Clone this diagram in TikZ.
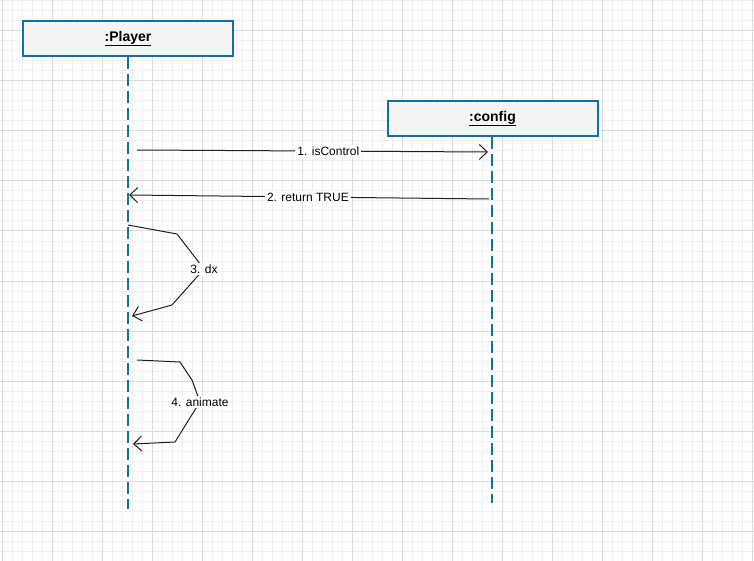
\documentclass[tikz,border=0pt]{standalone}
\usepackage{fontspec}
\setmainfont{Liberation Sans}
\usetikzlibrary{arrows.meta}
\definecolor{lifeblue}{HTML}{10739E}
\definecolor{boxfill}{HTML}{F5F5F5}
\definecolor{gridminor}{HTML}{EFEFEF}
\definecolor{gridmajor}{HTML}{DCDCDC}
\definecolor{msgline}{HTML}{202020}
\tikzset{
  objbox/.style={draw=lifeblue, line width=2pt, fill=boxfill, minimum width=210pt, minimum height=35pt, inner sep=0pt, font=\fontsize{14}{16}\selectfont\bfseries},
  lifeline/.style={draw=lifeblue, line width=2pt, dash pattern=on 12pt off 5pt},
  msg/.style={draw=msgline, line width=1pt, -{Straight Barb[length=8pt,width=15pt,line width=1pt]}},
  msglabel/.style={fill=white, inner sep=2pt, font=\fontsize{12}{14}\selectfont, text=black},
  gminor/.style={draw=gridminor, line width=1pt},
  gmajor/.style={draw=gridmajor, line width=1pt}
}
\begin{document}
\begin{tikzpicture}[x=1pt, y=-1pt]
\useasboundingbox (0,0) rectangle (754,561);
\fill[white] (0,0) rectangle (754,561);
% grid
\foreach \i in {0,...,75} {\draw[gminor] ({2+10*\i},0) -- ({2+10*\i},561);}
\foreach \i in {0,...,56} {\draw[gminor] (0,{1+10*\i}) -- (754,{1+10*\i});}
\foreach \i in {0,...,15} {\draw[gmajor] ({2+50*\i},0) -- ({2+50*\i},561);}
\foreach \i in {0,...,11} {\draw[gmajor] (0,{31+50*\i}) -- (754,{31+50*\i});}
% objects
\node[objbox] (player) at (128,38.5) {\underline{:Player}};
\node[objbox] (config) at (492.5,118.5) {\underline{:config}};
\coordinate (pend) at (127.5,509);
\coordinate (cend) at (492,503);
\draw[lifeline] (player.south -| pend) -- (pend);
\draw[lifeline] (config.south -| cend) -- (cend);
% message 1
\coordinate (m1s) at (137,150);
\coordinate (m1e) at (488,152);
\draw[msg] (m1s) -- node[msglabel, pos=0.545] (l1) {1. isControl} (m1e);
% message 2
\coordinate (m2s) at (489,199);
\coordinate (m2e) at (129,195);
\draw[msg] (m2s) -- node[msglabel, pos=0.503] (l2) {2. return TRUE} (m2e);
% message 3 (self)
\coordinate (m3s) at (128,225);
\coordinate (m3a) at (177,234);
\coordinate (m3b) at (172,305);
\coordinate (m3e) at (132,316);
\coordinate (m3c) at (204,269);
\draw[msg] (m3s) -- (m3a) -- (m3c) -- (m3b) -- (m3e);
\node[msglabel] (l3) at (m3c) {3. dx};
% message 4 (self)
\coordinate (m4s) at (137,360);
\coordinate (m4a) at (180,362);
\coordinate (m4b) at (192,380);
\coordinate (m4c) at (200,402);
\coordinate (m4d) at (193,413);
\coordinate (m4f) at (175,442);
\coordinate (m4e) at (133,444);
\draw[msg] (m4s) -- (m4a) -- (m4b) -- (m4c) -- (m4d) -- (m4f) -- (m4e);
\node[msglabel] (l4) at (m4c) {4. animate};
\end{tikzpicture}
\end{document}
